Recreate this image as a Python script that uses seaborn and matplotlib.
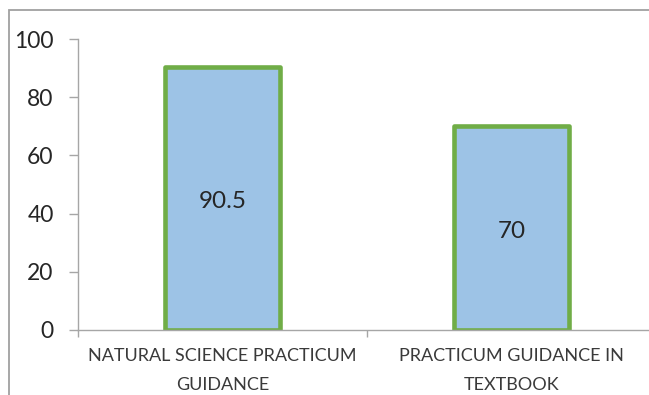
import matplotlib
matplotlib.use("Agg")
import matplotlib.pyplot as plt
from matplotlib.patches import Rectangle
import seaborn as sns
import pandas as pd

categories = ["NATURAL SCIENCE PRACTICUM\nGUIDANCE", "PRACTICUM GUIDANCE IN\nTEXTBOOK"]
values = [90.5, 70]
y_ticks = [0, 20, 40, 60, 80, 100]

sns.set_theme(style="white")
plt.rcParams["font.family"] = ["Lato", "DejaVu Sans"]

TEXT = "#3A3A3A"
AXIS = "#A6A6A6"
FILL = "#9DC3E6"
EDGE = "#70AD47"

W, H = 649, 395
fig = plt.figure(figsize=(W / 100, H / 100), dpi=100)
ax = fig.add_axes([78 / W, (H - 330) / H, (656 - 78) / W, (330 - 39) / H])

df = pd.DataFrame({"category": categories, "value": values})
sns.barplot(data=df, x="category", y="value", ax=ax, width=0.4,
            color=FILL, saturation=1, edgecolor=EDGE, linewidth=3.3)
for p in ax.patches:
    p.set_joinstyle("round")

for i, v in enumerate(values):
    ax.text(i, v / 2 - 1, f"{v:g}", ha="center", va="center",
            fontsize=17.5, color="#262626")

ax.set_xlim(-0.5, 1.5)
ax.set_ylim(0, 100)
ax.set_yticks(y_ticks)
ax.set_xlabel("")
ax.set_ylabel("")

for side in ["top", "right"]:
    ax.spines[side].set_visible(False)
for side in ["left", "bottom"]:
    ax.spines[side].set_color(AXIS)
    ax.spines[side].set_linewidth(1.0)

ax.tick_params(axis="y", which="major", direction="out", length=6.5, width=1.0,
               color=AXIS, labelcolor="#262626", labelsize=16.5, pad=11, left=True)
ax.tick_params(axis="x", which="major", length=0, labelcolor=TEXT,
               labelsize=13, pad=13)
ax.set_xticks([-0.5, 0.5, 1.5], minor=True)
ax.tick_params(axis="x", which="minor", direction="out", length=5, width=1.0,
               color=AXIS, bottom=True)
for lbl in ax.get_xticklabels():
    lbl.set_linespacing(2.0)

# outer chart frame
fig.patches.append(Rectangle((9 / W, -0.1), 1.2, (H - 10) / H + 0.1,
                             transform=fig.transFigure, fill=False,
                             edgecolor="#A0A0A0", linewidth=1.3, zorder=0))

fig.savefig("out.png", dpi=100)
